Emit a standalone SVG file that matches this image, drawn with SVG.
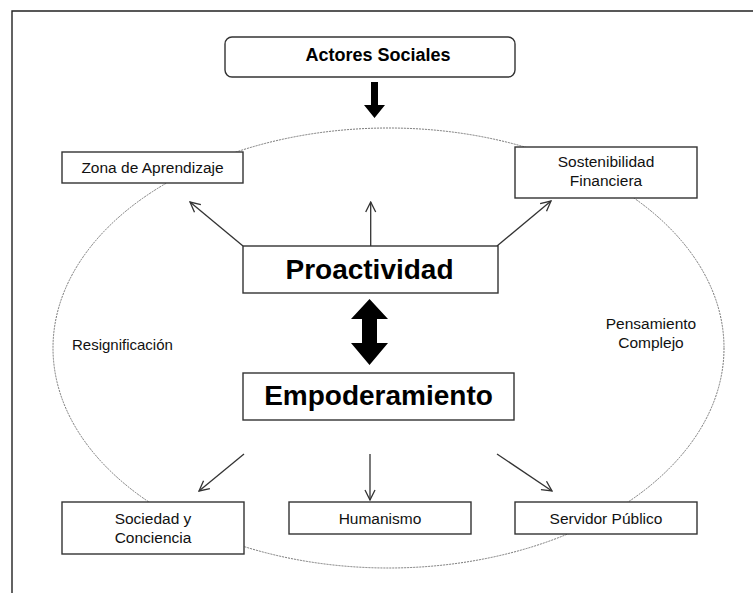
<svg xmlns="http://www.w3.org/2000/svg" width="753" height="593" viewBox="0 0 753 593">
  <style>
    .box { fill: #ffffff; stroke: #333333; stroke-width: 1.4; }
    .t { font-family: "Liberation Sans", Arial, sans-serif; font-size: 15.5px; fill: #111111; text-anchor: middle; }
    .tb { font-family: "Liberation Sans", Arial, sans-serif; font-weight: bold; fill: #000000; text-anchor: middle; }
    .conn { stroke: #333333; stroke-width: 1.3; fill: none; marker-end: url(#open); }
    .block { fill: #000000; }
  </style>
  <defs>
    <marker id="open" viewBox="0 0 12 12" refX="11" refY="6" markerWidth="12" markerHeight="12" markerUnits="userSpaceOnUse" orient="auto">
      <path d="M1,1 L11,6 L1,11" fill="none" stroke="#333333" stroke-width="1.3"/>
    </marker>
  </defs>
  <rect width="753" height="593" fill="#ffffff"/>
  <path d="M12,593 L12,11 L753,11" fill="none" stroke="#222222" stroke-width="1.4"/>

  <ellipse id="cycle" cx="388.5" cy="348" rx="335.5" ry="220" fill="none" stroke="#777777" stroke-width="1" stroke-dasharray="2 1"/>

  <g id="connectors">
    <polygon class="block" points="371,82 378,82 378,105 385,105 374.5,118 364,105 371,105"/>
    <polygon class="block" points="369.5,299 388,319 377,319 377,343 388,343 369.5,365 351,343 362,343 362,319 351,319"/>
    <line class="conn" x1="243" y1="246" x2="190" y2="202"/>
    <line class="conn" x1="370.7" y1="246" x2="370.7" y2="202"/>
    <line class="conn" x1="497" y1="246" x2="551" y2="201"/>
    <line class="conn" x1="244" y1="454" x2="199" y2="491"/>
    <line class="conn" x1="370" y1="454" x2="370" y2="500"/>
    <line class="conn" x1="497" y1="454" x2="552" y2="491"/>
  </g>

  <g id="actores">
    <rect class="box" x="225" y="37" width="290" height="40" rx="7"/>
    <text class="tb" x="378" y="61" font-size="18">Actores Sociales</text>
  </g>
  <g id="zona">
    <rect class="box" x="62" y="152" width="181" height="31"/>
    <text class="t" x="152.5" y="173">Zona  de Aprendizaje</text>
  </g>
  <g id="sostenibilidad">
    <rect class="box" x="515" y="147" width="182" height="51"/>
    <text class="t" x="606" y="167">Sostenibilidad</text>
    <text class="t" x="606" y="186">Financiera</text>
  </g>
  <g id="proactividad">
    <rect class="box" x="243" y="246" width="255" height="47"/>
    <text class="tb" x="369.5" y="279" font-size="28">Proactividad</text>
  </g>
  <g id="empoderamiento">
    <rect class="box" x="243" y="373" width="271" height="47"/>
    <text class="tb" x="378.5" y="405" font-size="28">Empoderamiento</text>
  </g>
  <g id="resignificacion">
    <text class="t" x="72" y="350" style="text-anchor:start;font-size:15px">Resignificación</text>
  </g>
  <g id="pensamiento">
    <text class="t" x="651" y="329">Pensamiento</text>
    <text class="t" x="651" y="348">Complejo</text>
  </g>
  <g id="sociedad">
    <rect class="box" x="62" y="502" width="182" height="52"/>
    <text class="t" x="153" y="524">Sociedad  y</text>
    <text class="t" x="153" y="543">Conciencia</text>
  </g>
  <g id="humanismo">
    <rect class="box" x="289" y="502" width="182" height="32"/>
    <text class="t" x="380" y="524">Humanismo</text>
  </g>
  <g id="servidor">
    <rect class="box" x="515" y="502" width="182" height="32"/>
    <text class="t" x="606" y="524">Servidor  Público</text>
  </g>
</svg>
